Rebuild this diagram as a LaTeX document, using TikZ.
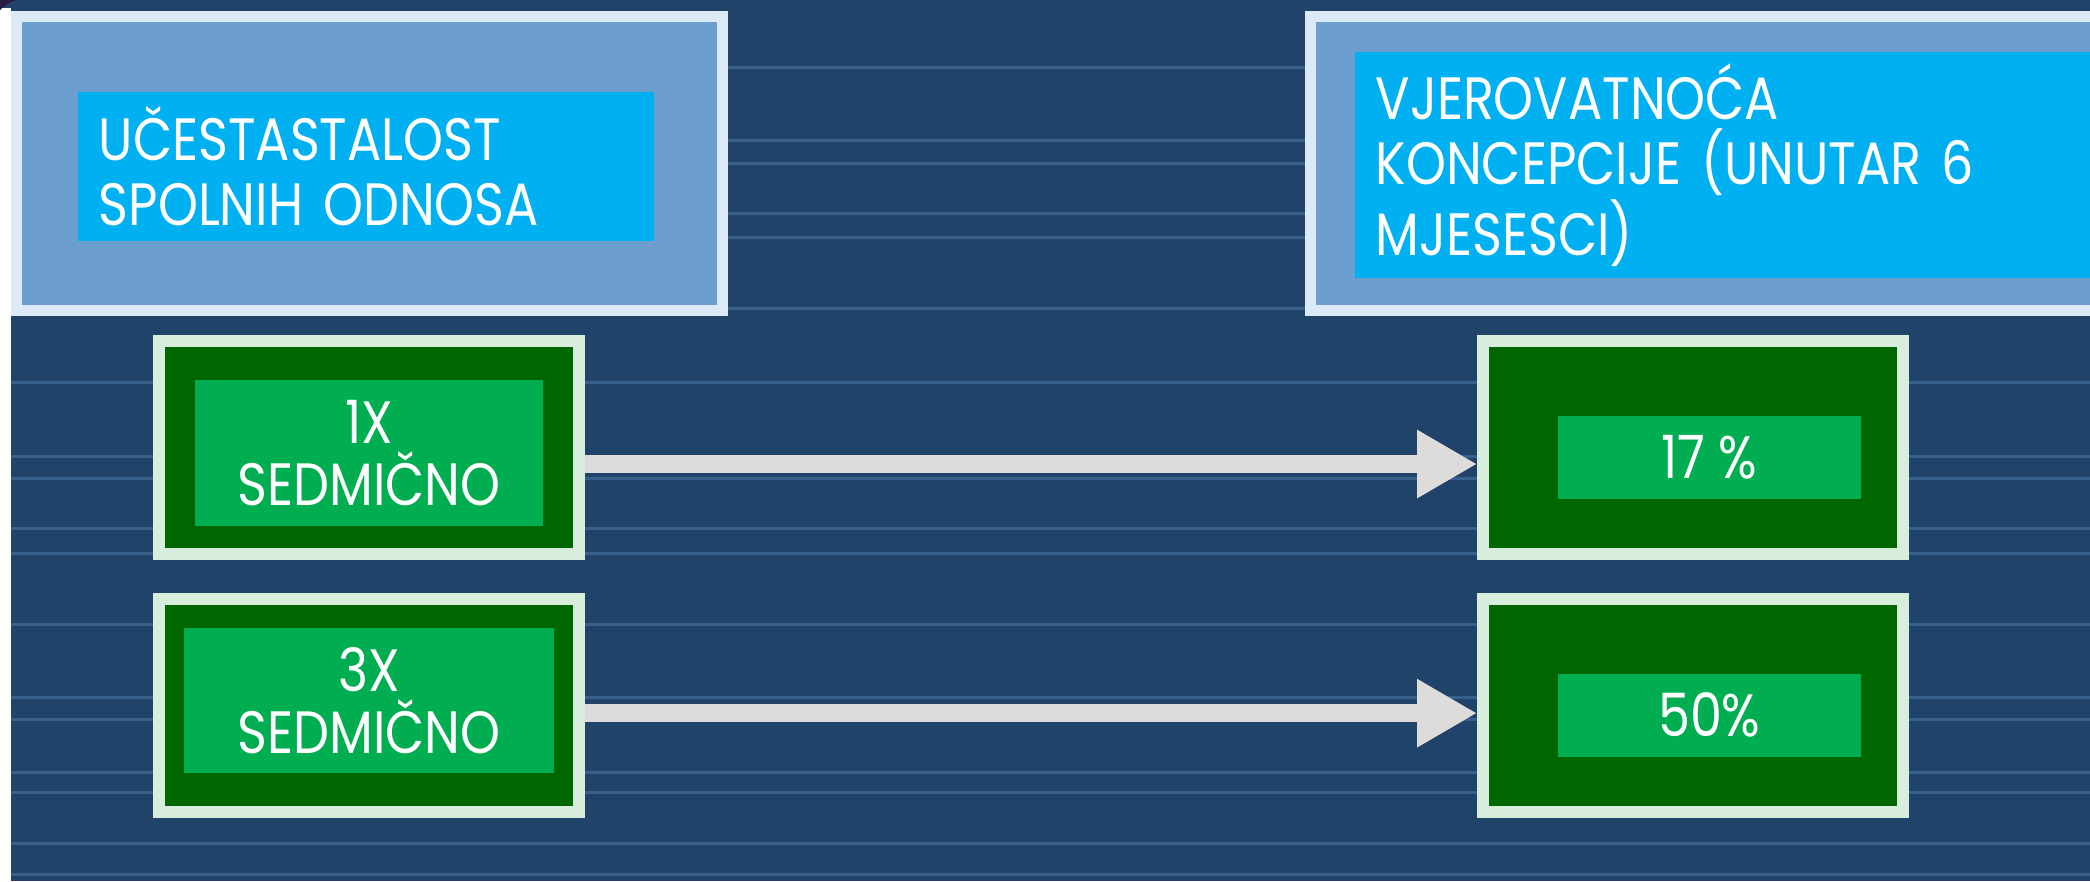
\documentclass[tikz,border=0pt]{standalone}
\usepackage{fontspec}
\setmainfont{Poppins}[FakeStretch=0.85]
\usetikzlibrary{arrows.meta}

\definecolor{navy}{HTML}{20436A}
\definecolor{stripe}{HTML}{37608A}
\definecolor{paleblue}{HTML}{6C9FD0}
\definecolor{rimblue}{HTML}{DCEAF7}
\definecolor{cyanbox}{HTML}{00B0F0}
\definecolor{darkgreen}{HTML}{006600}
\definecolor{rimgreen}{HTML}{D6EEDB}
\definecolor{brightgreen}{HTML}{00AD50}
\definecolor{arrowgray}{HTML}{DEDBDB}
\definecolor{swoosh}{HTML}{2A1A40}

\begin{document}
\begin{tikzpicture}[x=0.01cm,y=0.01cm,>={Triangle[length=6mm,width=6.4mm]},
	bigbox/.style={draw=rimblue,fill=paleblue,line width=1.1mm,minimum width=7.05cm,minimum height=2.93cm},
	title/.style={fill=cyanbox,text=white,align=left,inner xsep=2.1mm,inner ysep=0pt,font=\fontsize{17}{18.6}\selectfont},
	greenbox/.style={draw=rimgreen,fill=darkgreen,line width=1.2mm,minimum width=4.2cm,minimum height=2.13cm},
	tag/.style={fill=brightgreen,text=white,align=center,inner sep=0pt,font=\fontsize{17}{17.6}\selectfont},
	arrow/.style={->,draw=arrowgray,line width=1.8mm}]

	\clip (0,0) rectangle (2090,-881);
	\fill[navy] (0,0) rectangle (2090,-881);
	\foreach \y in {67,140,163,213,237,308,382,456,478,528,553,624,697,719,772,792,843,874}
		\draw[stripe,line width=0.3mm] (11,-\y) -- (2090,-\y);
	\fill[white] (0,-8) rectangle (11,-881);
	\fill[swoosh] (0,0) -- (16,0) .. controls (8,-3) .. (0,-10) -- cycle;

	% headers
	\node[bigbox] (freq) at (369.5,-163.5) {};
	\node[bigbox,minimum width=8cm] (prob) at (1711,-163.5) {};
	\node[title,text width=5.34cm,minimum height=1.49cm] (freqtitle) at (366,-166.5)
		{UČESTASTALOST\\SPOLNIH ODNOSA};
	\node[title,text width=7.2cm,minimum height=2.26cm,anchor=west] (probtitle) at (1354,-165)
		{VJEROVATNOĆA\\KONCEPCIJE (UNUTAR 6\\MJESESCI)};

	% rows
	\node[greenbox] (once) at (369,-447.5) {};
	\node[greenbox,node distance=2.575cm] (thrice) [below of=once] {};
	\node[greenbox,node distance=13.235cm] (low) [right of=once] {};
	\node[greenbox,node distance=13.235cm] (high) [right of=thrice] {};

	\node[tag,minimum width=3.47cm,minimum height=1.46cm] (oncetag) at ([yshift=-0.55mm]once) {1X\\SEDMIČNO};
	\node[tag,minimum width=3.69cm,minimum height=1.45cm] (thricetag) at ([yshift=0.45mm]thrice) {3X\\SEDMIČNO};
	\node[tag,minimum width=3.03cm,minimum height=0.83cm] (lowtag) at ([xshift=1.6mm,yshift=-1mm]low) {17 \%};
	\node[tag,minimum width=3.03cm,minimum height=0.83cm] (hightag) at ([xshift=1.6mm,yshift=-1mm]high) {50\%};

	\draw[arrow] ([yshift=-1.65mm]once.east) -- ([yshift=-1.65mm]low.west);
	\draw[arrow] ([yshift=-0.8mm]thrice.east) -- ([yshift=-0.8mm]high.west);

\end{tikzpicture}
\end{document}
